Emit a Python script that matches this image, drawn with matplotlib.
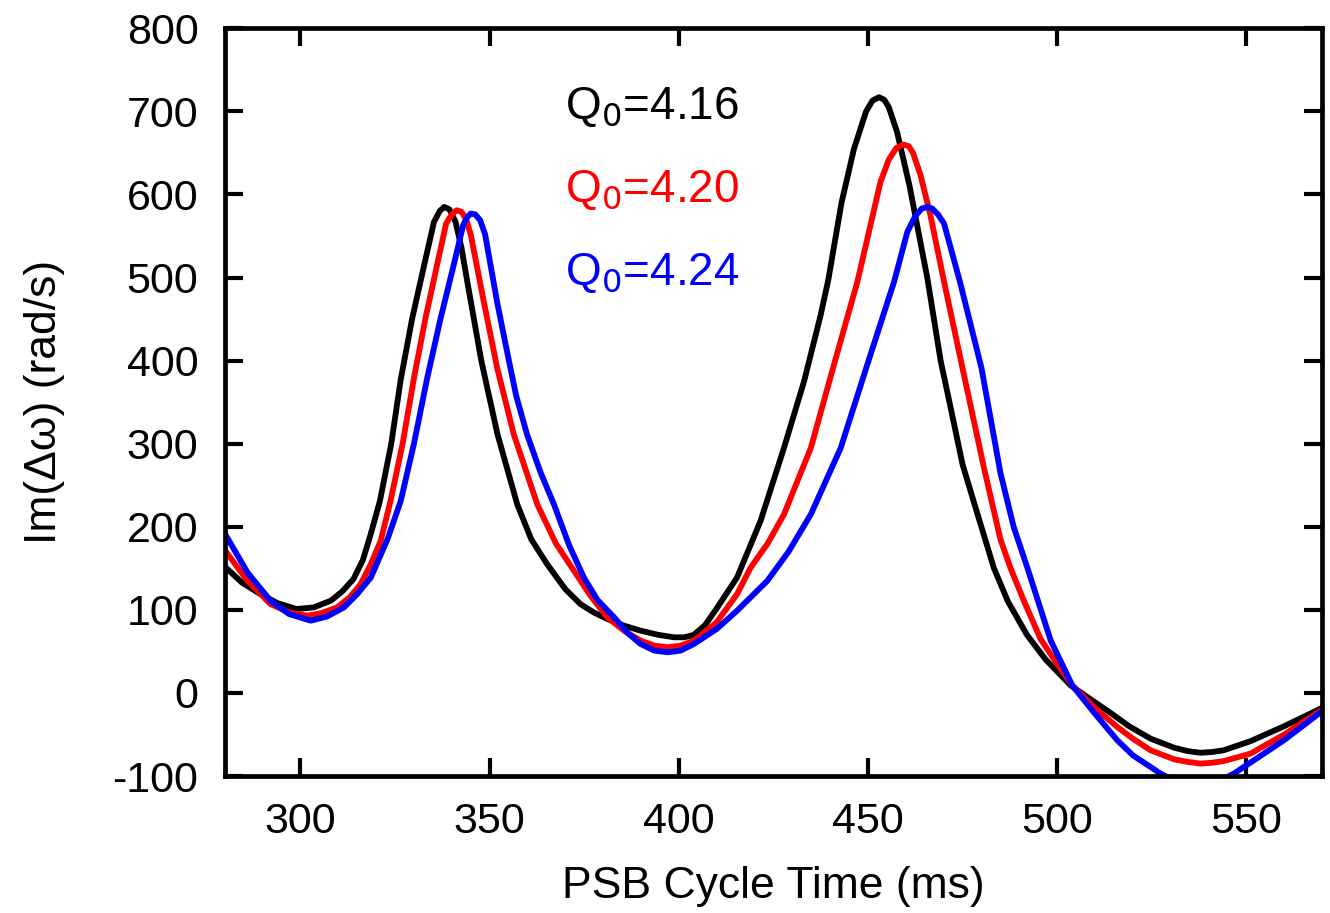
import numpy as np
import matplotlib
matplotlib.use('Agg')
import matplotlib.pyplot as plt

plt.rcParams['font.family'] = ['Liberation Sans', 'DejaVu Sans']
plt.rcParams['axes.unicode_minus'] = False

# Q0 = 4.16 (black)
t_416 = [280, 284.5, 289.4, 294, 299, 303.5, 308, 311, 314, 316.5, 318.5, 321, 324, 326.5,
         329.5, 332.7, 335.3, 336.8, 338, 339.4, 341, 342.6, 344.1, 347.8, 352.1, 357.3,
         361, 365.2, 370, 374, 377.5, 381.1, 385.5, 389.9, 394.5, 398.8, 401.5, 404,
         407, 410.2, 415.4, 421.6, 427.8, 433.1, 437.5, 439.5, 443, 446.3, 449.5,
         451.2, 452.9, 454.3, 455.5, 457.7, 461, 465.7, 469.2, 472, 475, 478.5, 483.3,
         487, 492, 497, 503.6, 508, 514.1, 519, 524.7, 531, 534.5, 537.9, 541, 544,
         551.1, 560, 570]
w_416 = [152, 133, 119, 108, 101, 103, 111, 122, 137, 160, 190, 231, 300, 377,
         450, 515, 567, 580, 585, 582, 567, 535, 495, 400, 311, 227,
         185, 155, 125, 107, 97, 89, 81, 75, 70, 67, 67, 70,
         82, 103, 139, 207, 295, 375, 455, 497, 590, 655, 700,
         713, 717, 714, 705, 675, 610, 499, 400, 340, 275, 222, 150,
         110, 70, 40, 9, -5, -24, -40, -55, -66, -70, -72, -71, -69,
         -58, -40, -18]

# Q0 = 4.20 (red)
t_420 = [280, 286, 292.1, 297, 301.8, 305.5, 309.7, 313, 315.9, 318.5, 321.2, 323.8, 327,
         330, 333, 336.1, 338.5, 340, 341.3, 342.6, 343.8, 345, 348.5, 352, 356.4, 362.6,
         367.5, 372.3, 376.5, 381.1, 385.5, 389.9, 393.5, 397, 400.5, 404, 410, 415.4,
         419, 423.5, 427.8, 434.9, 441, 447.2, 450.5, 453.3, 455.5, 457.5, 459.3, 460.8,
         461.9, 463.9, 466.5, 470.1, 475.5, 480.7, 485, 487.7, 491.2, 495.6, 500, 504,
         510, 515.9, 520, 524.7, 531, 534.5, 537.9, 541, 544, 551.1, 560, 570]
w_420 = [172, 135, 107, 97, 93, 96, 103, 115, 131, 154, 183, 231, 300,
         379, 450, 515, 565, 576, 581, 579, 570, 552, 470, 391, 311, 227,
         180, 147, 118, 91, 75, 63, 57, 55, 57, 63, 85, 119,
         151, 180, 215, 295, 395, 495, 560, 615, 642, 656, 660, 658,
         650, 623, 575, 495, 380, 270, 185, 150, 111, 65, 35, 9,
         -18, -41, -55, -69, -80, -83, -85, -84, -82, -73, -50, -20]

# Q0 = 4.24 (blue)
t_424 = [280, 286, 292.1, 297, 302.7, 307, 311.5, 315, 318.6, 323, 326.5, 330, 333.5, 337,
         340.5, 343, 344, 345, 346.2, 347.5, 348.8, 352, 354.6, 357, 359.9, 363.5, 367, 371,
         374.9, 378.5, 382.9, 386.5, 389.9, 393.5, 397, 400.5, 404, 410, 415.4, 423.4,
         429, 434.9, 442.8, 449.8, 456.9, 460.4, 462.5, 464.2, 465.7, 467, 468.5, 470.1,
         474.3, 480, 485, 488.5, 492.1, 498.3, 504, 510, 515.9, 520, 527.3, 532, 537,
         542, 546.7, 553, 559.9, 570]
w_424 = [192, 145, 111, 95, 87, 92, 103, 119, 139, 185, 231, 300, 379, 450,
         515, 563, 572, 577, 576, 569, 552, 470, 411, 358, 311, 265, 227, 178,
         139, 112, 91, 72, 59, 51, 49, 51, 59, 77, 99, 135,
         170, 215, 295, 395, 495, 555, 574, 583, 585, 583, 576, 565,
         495, 391, 265, 200, 151, 63, 9, -25, -57, -75, -97, -108, -112,
         -108, -97, -78, -57, -22]

labels = ['Q$_0$=4.16', 'Q$_0$=4.20', 'Q$_0$=4.24']
colors = ['black', '#ff0000', '#0000ff']

fig = plt.figure(figsize=(13.3, 9.13), dpi=100)
ax = fig.add_axes([0.169, 0.150, 0.825, 0.819])

for t, w, c in zip([t_416, t_420, t_424], [w_416, w_420, w_424], colors):
    ax.plot(t, w, color=c, lw=4.2, solid_joinstyle='round', solid_capstyle='round')

ax.set_xlim(280, 570)
ax.set_ylim(-100, 800)
ax.set_xticks(np.arange(300, 551, 50))
ax.set_yticks(np.arange(-100, 801, 100))
ax.tick_params(direction='in', length=13, width=3, labelsize=31, top=True, right=True)
ax.tick_params(axis='x', pad=19)
ax.tick_params(axis='y', pad=19)
for s in ax.spines.values():
    s.set_linewidth(3.4)

ax.set_xlabel('PSB Cycle Time (ms)', fontsize=32, labelpad=17)
ax.set_ylabel('Im(\u0394\u03c9) (rad/s)', fontsize=32, labelpad=34)

# legend as coloured text
for i, (lab, c) in enumerate(zip(labels, colors)):
    ax.text(370, 705 - i * 100, lab, color=c, fontsize=33, va='center', ha='left')

fig.savefig('out.png', dpi=100)
